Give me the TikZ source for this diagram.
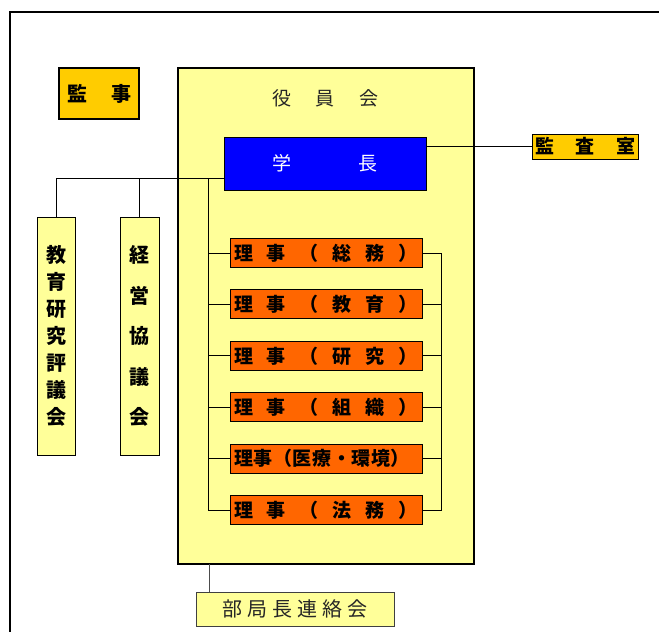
\documentclass[tikz,border=0pt]{standalone}
\usepackage{fontspec}
\setmainfont{Noto Sans CJK JP}
\definecolor{gold}{HTML}{FFCC00}
\definecolor{paleY}{HTML}{FFFF99}
\definecolor{orng}{HTML}{FF6600}
\definecolor{blu}{HTML}{0000FF}
\tikzset{
  box/.style={draw=black, line width=1pt, inner sep=0pt, anchor=center},
  goldbox/.style={box, fill=gold, font=\fontsize{19}{19}\selectfont\bfseries},
  palebox/.style={box, fill=paleY},
  rijibox/.style={box, fill=orng, minimum width=192pt, minimum height=29pt, font=\fontsize{19}{19}\selectfont\bfseries},
  vbox/.style={palebox, minimum width=38pt, minimum height=238pt, align=center},
  conn/.style={draw=black, line width=0.9pt}
}
\begin{document}
\begin{tikzpicture}[x=1pt,y=-1pt]
\useasboundingbox (0,0) rectangle (659,632);
% outer frame
\draw[line width=2pt] (659,12) -- (10,12) -- (10,632);
% board
\node[palebox, line width=2.5pt, minimum width=296pt, minimum height=496pt] (board) at (326,316) {};
\node[font=\fontsize{19}{19}\selectfont, text=black!85] (boardlbl) at (325.5,98) {\hbox to 106pt{役\hfil 員\hfil 会}};
% auditors
\node[goldbox, line width=2pt, minimum width=80pt, minimum height=51pt, font=\fontsize{20}{20}\selectfont\bfseries] (kanji) at (99,93.5) {\hbox to 64pt{監\hfil 事}};
% president
\node[box, fill=blu, text=white, minimum width=202pt, minimum height=53pt, font=\fontsize{19}{19}\selectfont] (pres) at (325,163.5) {\hbox to 105pt{学\hfil 長}};
% audit office
\node[goldbox, minimum width=106pt, minimum height=25pt] (audit) at (585,146.5) {\hbox to 100pt{監\hfil 査\hfil 室}};
% councils
\node[vbox, font=\fontsize{20}{27}\selectfont\bfseries] (edu) at (56,336) {教\\育\\研\\究\\評\\議\\会};
\node[vbox, minimum width=39pt, font=\fontsize{20}{40.5}\selectfont\bfseries] (mgmt) at (139.5,336) {経\\営\\協\\議\\会};
% directors
\node[rijibox] (r1) at (326,253) {\hbox to 184pt{理\hfil 事\hfil （\hfil 総\hfil 務\hfil ）}};
\node[rijibox] (r2) at (326,304.4) {\hbox to 184pt{理\hfil 事\hfil （\hfil 教\hfil 育\hfil ）}};
\node[rijibox] (r3) at (326,355.8) {\hbox to 184pt{理\hfil 事\hfil （\hfil 研\hfil 究\hfil ）}};
\node[rijibox] (r4) at (326,407.2) {\hbox to 184pt{理\hfil 事\hfil （\hfil 組\hfil 織\hfil ）}};
\node[rijibox] (r5) at (326,458.6) {\hbox to 184pt{理\hfil 事\hfil （\hfil 医\hfil 療\hfil ・\hfil 環\hfil 境\hfil ）\hskip 8pt}};
\node[rijibox] (r6) at (326,510) {\hbox to 184pt{理\hfil 事\hfil （\hfil 法\hfil 務\hfil ）}};
% liaison
\node[palebox, draw=black!75, minimum width=198pt, minimum height=34pt, font=\fontsize{20}{20}\selectfont, text=black!85] (liaison) at (295,609) {\hbox to 145pt{部\hfil 局\hfil 長\hfil 連\hfil 絡\hfil 会}};
% connectors
\coordinate (pl) at (224,178);
\coordinate (bus) at (208.5,178);
\coordinate (rbus) at (441.5,253);
\coordinate (lb) at (209,564);
\draw[conn] (pl) -| (edu.north);
\draw[conn] (mgmt.north) -- (mgmt.north |- pl);
\draw[conn] (bus) |- (r6.west);
\foreach \r in {r1,r2,r3,r4,r5} \draw[conn] (bus |- \r.west) -- (\r.west);
\draw[conn] (r1.east) -| (rbus) |- (r6.east);
\foreach \r in {r2,r3,r4,r5} \draw[conn] (\r.east) -- (\r.east -| rbus);
\draw[conn] (audit.west) -- (audit.west -| pres.east);
\draw[conn, draw=black!70] (lb) -- (lb |- liaison.north);
\end{tikzpicture}
\end{document}
